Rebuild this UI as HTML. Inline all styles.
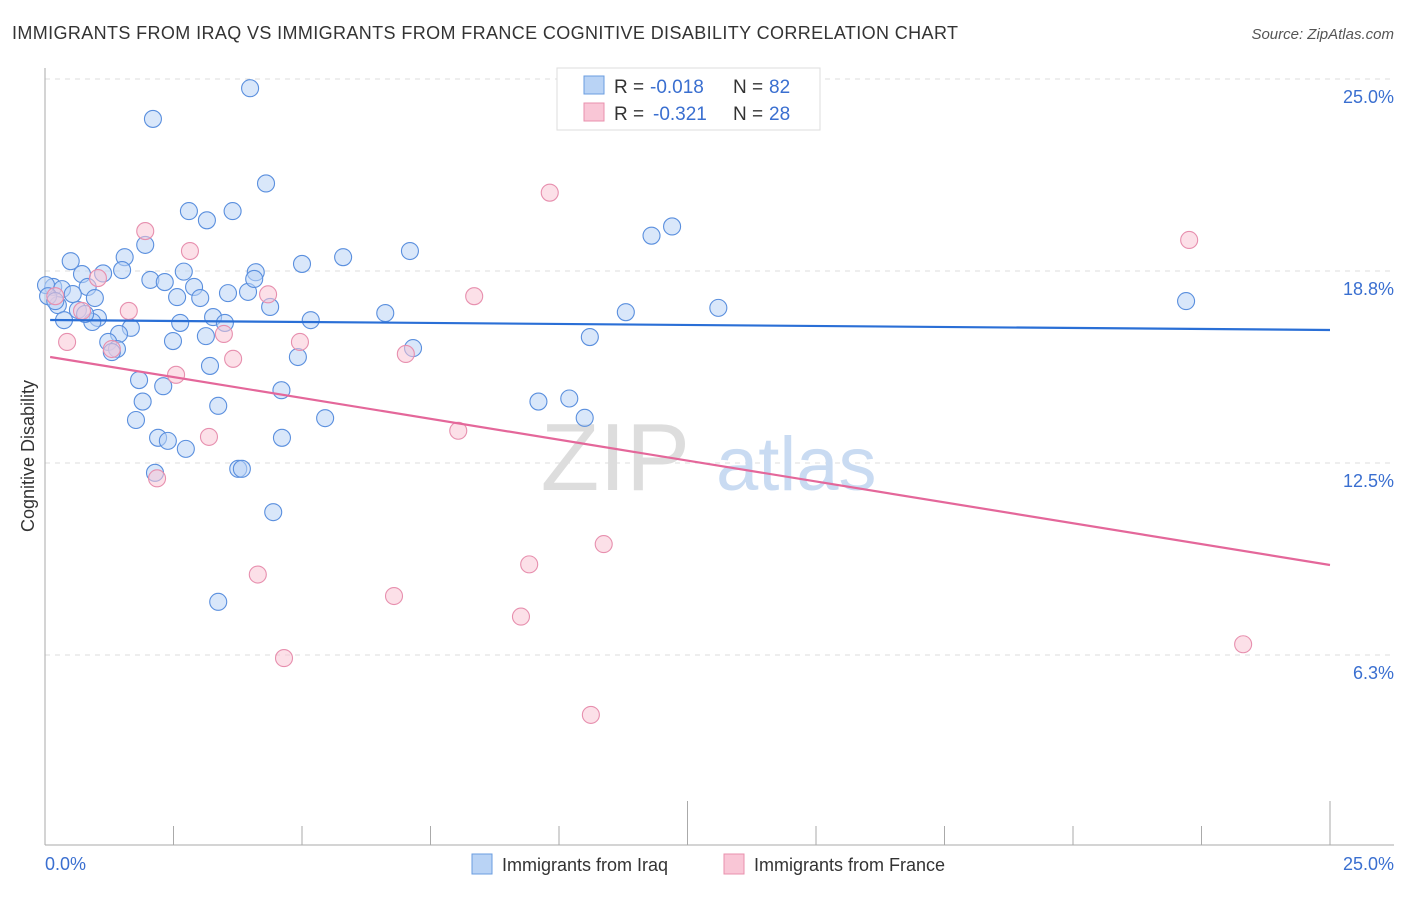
<!DOCTYPE html>
<html><head><meta charset="utf-8"><style>
body{margin:0;background:#fff;font-family:"Liberation Sans",sans-serif;}
svg text{font-family:"Liberation Sans",sans-serif;}
</style></head><body>
<svg id="chart" width="1406" height="892" viewBox="0 0 1406 892">
<text x="12" y="39" font-size="18" fill="#333" textLength="946">IMMIGRANTS FROM IRAQ VS IMMIGRANTS FROM FRANCE COGNITIVE DISABILITY CORRELATION CHART</text>
<text x="1394" y="39" font-size="15" fill="#555" font-style="italic" text-anchor="end">Source: ZipAtlas.com</text>
<g id="grid"></g>
<text x="690" y="490" font-size="96" fill="#ddd" text-anchor="end" font-family="Liberation Serif">ZIP</text>
<text x="716" y="490" font-size="76" fill="#c9dbf2">atlas</text>
<g id="axes"></g>
<g id="pts"></g>
<g id="trends"></g>
<text transform="translate(34,456) rotate(-90)" font-size="18" fill="#333" text-anchor="middle">Cognitive Disability</text>
<text x="45" y="870" font-size="18" fill="#3a6fd0">0.0%</text>
<text x="1394" y="870" font-size="18" fill="#3a6fd0" text-anchor="end">25.0%</text>
<g>
<rect x="557" y="68" width="263" height="62" fill="#fff" stroke="#ddd"/>
<rect x="584" y="76" width="20" height="18" fill="#b9d3f5" stroke="#6a9de0"/>
<rect x="584" y="103" width="20" height="18" fill="#f9c6d6" stroke="#e990ad"/>
<text x="614" y="93" font-size="19" fill="#333">R =</text>
<text x="650" y="93" font-size="19" fill="#3a6fd0">-0.018</text>
<text x="733" y="93" font-size="19" fill="#333">N =</text>
<text x="769" y="93" font-size="19" fill="#3a6fd0">82</text>
<text x="614" y="120" font-size="19" fill="#333">R =</text>
<text x="653" y="120" font-size="19" fill="#3a6fd0">-0.321</text>
<text x="733" y="120" font-size="19" fill="#333">N =</text>
<text x="769" y="120" font-size="19" fill="#3a6fd0">28</text>
</g>
<g>
<rect x="472" y="854" width="20" height="20" fill="#b9d3f5" stroke="#6a9de0"/>
<text x="502" y="871" font-size="18" fill="#333">Immigrants from Iraq</text>
<rect x="724" y="854" width="20" height="20" fill="#f9c6d6" stroke="#e990ad"/>
<text x="754" y="871" font-size="18" fill="#333">Immigrants from France</text>
</g>
</svg>
<script>
const yTicks=[6.25,12.5,18.75,25];
const yTickLabels=["6.3%","12.5%","18.8%","25.0%"];
const iraqX=[3.99,2.1,4.3,2.8,3.15,3.65,12.2,11.8,7.1,1.95,5.8,1.55,0.5,5.0,2.7,4.1,1.13,0.72,1.5,2.05,2.33,2.9,0.83,0.16,0.02,0.33,0.54,0.97,2.57,3.02,3.56,3.95,4.07,4.38,22.2,13.1,11.3,6.62,0.25,0.64,1.03,0.37,0.92,0.78,3.27,2.63,5.17,3.5,1.67,1.44,3.13,2.49,1.23,10.6,7.16,1.4,1.3,4.92,3.21,1.83,2.3,4.6,1.9,9.6,10.2,3.37,10.5,5.45,1.77,2.2,2.39,4.61,2.74,2.14,3.76,3.83,4.44,3.37,0.06,0.2];
const iraqY=[24.7,23.7,21.6,20.7,20.4,20.7,20.2,19.9,19.4,19.6,19.2,19.2,19.07,18.98,18.73,18.71,18.67,18.65,18.78,18.46,18.39,18.23,18.23,18.23,18.29,18.16,18.0,17.87,17.9,17.87,18.03,18.07,18.49,17.58,17.77,17.55,17.41,17.38,17.64,17.48,17.22,17.15,17.09,17.35,17.25,17.06,17.15,17.06,16.9,16.7,16.63,16.47,16.44,16.6,16.24,16.21,16.11,15.95,15.66,15.2,15.0,14.87,14.5,14.5,14.6,14.36,13.97,13.96,13.9,13.32,13.22,13.32,12.96,12.18,12.31,12.31,10.9,7.98,17.93,17.77];
const franceX=[9.82,22.26,1.95,2.82,1.03,8.35,4.34,1.63,0.72,0.43,4.96,3.48,7.02,3.66,2.55,8.04,3.19,2.18,10.87,9.42,4.14,6.79,9.26,23.31,4.65,10.62,0.2,1.3];
const franceY=[21.3,19.76,20.05,19.4,18.52,17.93,17.99,17.45,17.45,16.44,16.44,16.7,16.05,15.89,15.37,13.55,13.35,12.0,9.86,9.2,8.87,8.17,7.5,6.6,6.15,4.3,17.93,16.21];
const iraqTrend=[17.155,16.83];
const franceTrend=[15.95,9.18];
const NS="http://www.w3.org/2000/svg";
const X0=45,X1=1330,Y0=847,YPX=30.72;
function sx(v){return X0+(X1-X0)*v/25;}
function sy(v){return Y0-v*YPX;}
function mk(tag,attrs,parent){const e=document.createElementNS(NS,tag);for(const k in attrs)e.setAttribute(k,attrs[k]);parent.appendChild(e);return e;}
const grid=document.getElementById('grid'),axes=document.getElementById('axes'),pts=document.getElementById('pts'),trends=document.getElementById('trends');
yTicks.forEach((t,i)=>{
 const l=mk('line',{x1:X0,x2:1394,y1:sy(t),y2:sy(t),stroke:'#ddd','stroke-dasharray':'5,5'},grid);
 
 
 const tx=mk('text',{x:1394,y:sy(t)+24,'font-size':18,fill:'#3a6fd0','text-anchor':'end'},axes);
 tx.textContent=yTickLabels[i];
 
 
});
mk('line',{x1:X0,x2:X0,y1:68,y2:845,stroke:'#aaa'},axes);
mk('line',{x1:X0,x2:1394,y1:845,y2:845,stroke:'#aaa'},axes);
for(let i=0;i<=10;i++){
 const x=sx(i*2.5);
 const t=mk('line',{x1:x,x2:x,y1:(i==5||i==10)?801:826,y2:845,stroke:'#aaa'},axes);
 
 
}
function drawPts(xs,ys,fill,stroke,name){
 xs.forEach((v,i)=>{
  const c=mk('circle',{cx:sx(v),cy:sy(ys[i]),r:8.5,fill:fill,'fill-opacity':0.55,stroke:stroke,'stroke-width':1.1},pts);
  
  
 });
}
drawPts(iraqX,iraqY,'#b9d3f5','#5a8fde','point-iraq');
drawPts(franceX,franceY,'#f9c6d6','#e78fae','point-france');
const t1=mk('line',{x1:sx(0.1),x2:sx(25),y1:sy(iraqTrend[0]),y2:sy(iraqTrend[1]),stroke:'#2a6fd6','stroke-width':2.2},trends);


const t2=mk('line',{x1:sx(0.1),x2:sx(25),y1:sy(franceTrend[0]),y2:sy(franceTrend[1]),stroke:'#e4679a','stroke-width':2.2},trends);


</script>
</body></html>
